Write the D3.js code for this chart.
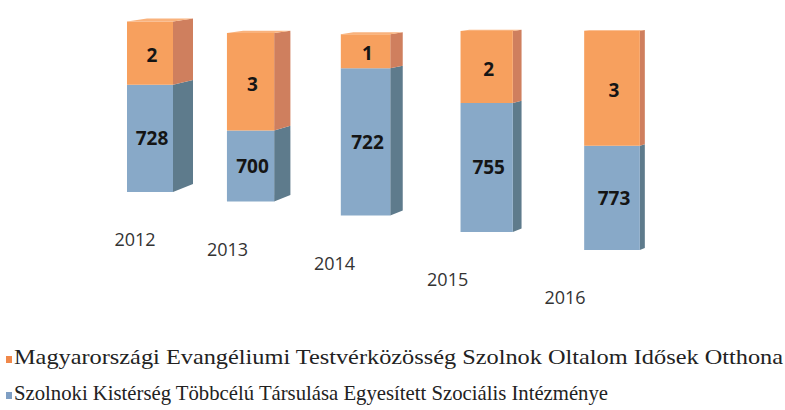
<!DOCTYPE html>
<html><head><meta charset="utf-8">
<script src="https://cdn.jsdelivr.net/npm/d3@7"></script>
<style>
html,body{margin:0;padding:0;background:#fff;}
svg{display:block;}
</style></head>
<body>
<svg id="chart" width="785" height="410"></svg>
<script>
const years = ["2012", "2013", "2014", "2015", "2016"];
const blueValues = [728, 700, 722, 755, 773];
const orangeValues = [2, 3, 1, 2, 3];
const seriesNames = [
  "Magyarországi Evangéliumi Testvérközösség Szolnok Oltalom Idősek Otthona",
  "Szolnoki Kistérség Többcélú Társulása Egyesített Szociális Intézménye"
];

const colors = {
  orangeFront: "#F7A05E", orangeSide: "#CF7F5E", orangeTop: "#F9B27C",
  blueFront: "#88A9C8", blueSide: "#5E7B8C", blueTop: "#A3BDD6"
};

const svg = d3.select("#chart");
const idx = d3.range(years.length);

// perspective helpers (index-driven)
const xCenter = d3.scalePow().exponent(1.1).domain([0, 4]).range([150, 612]);
const baseY = d3.scalePow().exponent(1.3).domain([0, 4]).range([192, 250]);
const persp = d3.scalePow().exponent(1.5).domain([0, 4]).range([1, 1.21]);
const sideW = d3.scaleLinear().domain([0, 4]).range([20, 5]);
const yearDx = d3.scaleLinear().domain([0, 4]).range([-15, -47]);

// value scales (stack total and exaggerated minor series)
const totalScale = d3.scaleLinear().domain([0, 745]).range([0, 174]);
const orangeScale = d3.scaleLinear().domain([0, 3]).range([0, 95]);

const bars = idx.map(i => {
  const p = persp(i);
  const w = 46 * p;
  const cx = xCenter(i);
  const base = baseY(i);
  const top = base - totalScale(blueValues[i] + orangeValues[i]) * p;
  const mid = top + orangeScale(orangeValues[i]) * p;
  return {i, x0: cx - w / 2, x1: cx + w / 2, cx, base, top, mid, sw: sideW(i)};
});

function front(b, y0, y1) {
  return `M${b.x0},${y0}L${b.x1},${y0}L${b.x1},${y1}L${b.x0},${y1}Z`;
}
function side(b, y0, y1, dyTop, dyBot) {
  return `M${b.x1},${y0}L${b.x1 + b.sw},${y0 + dyTop}L${b.x1 + b.sw},${y1 + dyBot}L${b.x1},${y1}Z`;
}

const g = svg.append("g");
bars.forEach(b => {
  const k = b.sw / 20;
  const dTop = -3 * k, dBot = -8 * k;
  const dMid = dTop + (dBot - dTop) * (b.mid - b.top) / (b.base - b.top);
  // blue segment
  g.append("path").attr("d", side(b, b.mid, b.base, dMid, dBot)).attr("fill", colors.blueSide);
  g.append("path").attr("d", front(b, b.mid, b.base)).attr("fill", colors.blueFront);
  // orange segment
  g.append("path").attr("d", side(b, b.top, b.mid, dTop, dMid)).attr("fill", colors.orangeSide);
  g.append("path").attr("d", front(b, b.top, b.mid)).attr("fill", colors.orangeFront);
  // top face
  g.append("path")
    .attr("d", `M${b.x0},${b.top}L${b.x1},${b.top}L${b.x1 + b.sw},${b.top + dTop}L${b.x0 + b.sw},${b.top + dTop}Z`)
    .attr("fill", colors.orangeTop);
});

// value labels
const lab = svg.append("g")
  .attr("font-family", "'Open Sans', 'DejaVu Sans', sans-serif")
  .attr("font-weight", 700).attr("font-size", 19).attr("fill", "#151515")
  .attr("text-anchor", "middle");
lab.selectAll("text.o").data(bars).join("text").attr("class", "o")
  .attr("x", b => b.cx + 2).attr("y", b => (b.top + b.mid) / 2 + 9)
  .text(b => orangeValues[b.i]);
lab.selectAll("text.b").data(bars).join("text").attr("class", "b")
  .attr("x", b => b.cx + 2).attr("y", b => (b.mid + b.base) / 2 + 7)
  .text(b => blueValues[b.i]);

// year labels
svg.append("g")
  .attr("font-family", "'Open Sans', 'DejaVu Sans', sans-serif")
  .attr("font-size", 18).attr("fill", "#333")
  .attr("text-anchor", "middle")
  .selectAll("text").data(bars).join("text")
  .attr("x", b => b.cx + yearDx(b.i)).attr("y", b => b.base + 54)
  .text(b => years[b.i]);

// legend
const legend = [
  {name: seriesNames[0], color: "#F0884A", y: 364, len: 769},
  {name: seriesNames[1], color: "#7F9FC4", y: 400, len: 594}
];
const lg = svg.append("g");
lg.selectAll("rect").data(legend).join("rect")
  .attr("x", 6).attr("y", d => d.y - 8).attr("width", 6).attr("height", 7)
  .attr("fill", d => d.color);
lg.selectAll("text").data(legend).join("text")
  .attr("x", 14).attr("y", d => d.y)
  .attr("font-family", "'Liberation Serif', 'Times New Roman', serif")
  .attr("font-size", 21.5).attr("fill", "#222")
  .attr("textLength", d => d.len).attr("lengthAdjust", "spacingAndGlyphs")
  .text(d => d.name);
</script>
</body></html>
